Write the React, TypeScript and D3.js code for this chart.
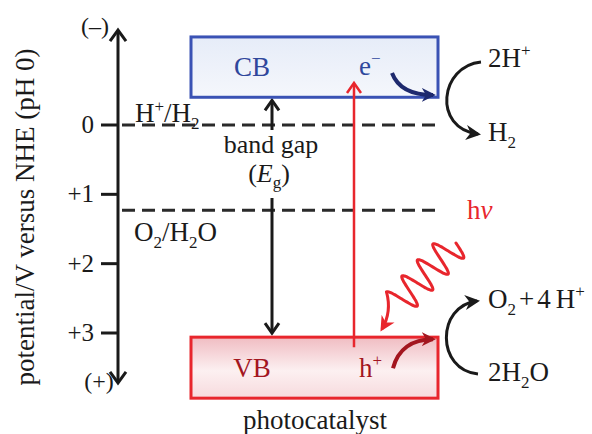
import React from "react";
import * as d3 from "d3";

// ---- data (potentials in V vs NHE, pH 0) ----
const tickValues = [0, 1, 2, 3];
const tickLabels = ["0", "+1", "+2", "+3"];
const axisRange = [-1.37, 3.72]; // axis arrow ends
const redoxValues = [0, 1.23];
const bandNames = ["CB", "VB"];
const bandTops = [-1.27, 3.06];
const bandBottoms = [-0.4, 3.94];

const W = 592;
const H = 434;
const FONT = "'Liberation Serif', 'Times New Roman', serif";

const y = d3.scaleLinear().domain([0, 3]).range([125, 333]);

export default function App() {
  const axisX = 118;
  const boxX0 = 191;
  const boxX1 = 438;
  const gapX = 272;
  const redX = 354;

  const cb = { top: y(bandTops[0]), bottom: y(bandBottoms[0]) };
  const vb = { top: y(bandTops[1]), bottom: y(bandBottoms[1]) };

  // photon wave (decorative glyph)
  const wStart: [number, number] = [456, 243];
  const wEnd: [number, number] = [398, 303];
  const dx = wEnd[0] - wStart[0];
  const dy = wEnd[1] - wStart[1];
  const len = Math.hypot(dx, dy);
  const ux = dx / len, uy = dy / len;
  const px = -uy, py = ux;
  const wavePts: [number, number][] = [];
  const N = 160;
  const periods = 3.75;
  for (let i = 0; i <= N; i++) {
    const t = i / N;
    const a = 16 * Math.sin(2 * Math.PI * periods * t - Math.PI);
    wavePts.push([wStart[0] + dx * t + px * a, wStart[1] + dy * t + py * a]);
  }
  const waveLine = d3.line().curve(d3.curveBasis)(wavePts) || "";
  const wLast = wavePts[wavePts.length - 1];

  const tickFont = 25;
  const lab = 27;
  const sub = 17;

  return (
    <svg width={W} height={H} style={{ position: "absolute", left: 0, top: 0 }} fontFamily={FONT}>
      <defs>
        <linearGradient id="cbFill" x1="0" y1="0" x2="0" y2="1">
          <stop offset="0" stopColor="#e6ecf8" />
          <stop offset="1" stopColor="#f5f7fc" />
        </linearGradient>
        <linearGradient id="vbFill" x1="0" y1="0" x2="0" y2="1">
          <stop offset="0" stopColor="#f0bcc2" />
          <stop offset="0.55" stopColor="#fcf0f1" />
          <stop offset="1" stopColor="#f7dadd" />
        </linearGradient>
        <marker id="headBlack" viewBox="0 0 10 10" refX="8" refY="5" markerWidth="5" markerHeight="5" orient="auto" markerUnits="strokeWidth">
          <path d="M0,0 L10,5 L0,10 L3,5 z" fill="#1a1a1a" />
        </marker>
        <marker id="headNavy" viewBox="0 0 10 10" refX="8" refY="5" markerWidth="3.5" markerHeight="3.5" orient="auto" markerUnits="strokeWidth">
          <path d="M0,0 L10,5 L0,10 L3,5 z" fill="#1e2a6e" />
        </marker>
        <marker id="headDRed" viewBox="0 0 10 10" refX="8" refY="5" markerWidth="3.5" markerHeight="3.5" orient="auto" markerUnits="strokeWidth">
          <path d="M0,0 L10,5 L0,10 L3,5 z" fill="#a3161f" />
        </marker>
        <marker id="headRed" viewBox="0 0 10 10" refX="8" refY="5" markerWidth="5" markerHeight="5" orient="auto" markerUnits="strokeWidth">
          <path d="M0,0 L10,5 L0,10 L3,5 z" fill="#e8262d" />
        </marker>
      </defs>

      {/* y-axis title */}
      <text x={34} y={217} transform="rotate(-90 34 217)" textAnchor="middle" fontSize={27} fill="#1a1a1a">
        potential/V versus NHE (pH 0)
      </text>

      {/* axis line with arrowheads */}
      <line x1={axisX} x2={axisX} y1={y(axisRange[0]) + 1} y2={y(axisRange[1]) - 1} stroke="#1a1a1a" strokeWidth={3} />
      <path d={`M${axisX - 8},${y(axisRange[0]) + 11} L${axisX},${y(axisRange[0])} L${axisX + 8},${y(axisRange[0]) + 11}`} fill="none" stroke="#1a1a1a" strokeWidth={3} />
      <path d={`M${axisX - 8},${y(axisRange[1]) - 11} L${axisX},${y(axisRange[1])} L${axisX + 8},${y(axisRange[1]) - 11}`} fill="none" stroke="#1a1a1a" strokeWidth={3} />
      <text x={95} y={y(axisRange[0]) + 4} textAnchor="middle" fontSize={24} fill="#1a1a1a">(–)</text>
      <text x={99} y={y(axisRange[1]) + 6} textAnchor="middle" fontSize={24} fill="#1a1a1a">(+)</text>

      {/* ticks */}
      {tickValues.map((v, i) => (
        <g key={v}>
          <line x1={101} x2={axisX} y1={y(v)} y2={y(v)} stroke="#1a1a1a" strokeWidth={3} />
          <text x={94} y={y(v) + 8} textAnchor="end" fontSize={tickFont} fill="#1a1a1a">{tickLabels[i]}</text>
        </g>
      ))}

      {/* redox levels */}
      {redoxValues.map((v) => (
        <line key={v} x1={122} x2={441} y1={y(v)} y2={y(v)} stroke="#2a2a2a" strokeWidth={3} strokeDasharray="13 7" />
      ))}
      <text x={135} y={y(redoxValues[0]) - 3} fontSize={lab} fill="#1a1a1a">
        H<tspan dy={-10} fontSize={sub}>+</tspan><tspan dy={10}>/H</tspan><tspan dy={7} fontSize={sub}>2</tspan>
      </text>
      <text x={134} y={y(redoxValues[1]) + 31} fontSize={lab} fill="#1a1a1a">
        O<tspan dy={7} fontSize={sub}>2</tspan><tspan dy={-7}>/H</tspan><tspan dy={7} fontSize={sub}>2</tspan><tspan dy={-7}>O</tspan>
      </text>

      {/* band gap arrow */}
      <line x1={gapX} x2={gapX} y1={cb.bottom + 4} y2={130} stroke="#1a1a1a" strokeWidth={3} />
      <path d={`M${gapX - 7},${cb.bottom + 13} L${gapX},${cb.bottom + 3} L${gapX + 7},${cb.bottom + 13}`} fill="none" stroke="#1a1a1a" strokeWidth={3} />
      <line x1={gapX} x2={gapX} y1={198} y2={vb.top - 4} stroke="#1a1a1a" strokeWidth={3} />
      <path d={`M${gapX - 7},${vb.top - 14} L${gapX},${vb.top - 4} L${gapX + 7},${vb.top - 14}`} fill="none" stroke="#1a1a1a" strokeWidth={3} />
      <text x={gapX - 1} y={153} textAnchor="middle" fontSize={26} fill="#1a1a1a">band gap</text>
      <text x={gapX - 3} y={182} textAnchor="middle" fontSize={26} fill="#1a1a1a">
        (<tspan fontStyle="italic">E</tspan><tspan dy={6} fontSize={sub}>g</tspan><tspan dy={-6}>)</tspan>
      </text>

      {/* CB box */}
      <rect x={boxX0} y={cb.top} width={boxX1 - boxX0} height={cb.bottom - cb.top} fill="url(#cbFill)" stroke="#3a52b4" strokeWidth={3} />
      <text x={252} y={cb.top + 39} textAnchor="middle" fontSize={lab} fill="#2f479c">{bandNames[0]}</text>
      <text x={359} y={cb.top + 38} fontSize={lab} fill="#2f479c">e<tspan dy={-11} fontSize={sub}>−</tspan></text>
      <path d={`M${392},${cb.top + 36} C${398},${cb.top + 52} ${412},${cb.top + 58} ${433},${cb.top + 58}`} fill="none" stroke="#1e2a6e" strokeWidth={4} markerEnd="url(#headNavy)" />

      {/* VB box */}
      <rect x={boxX0} y={vb.top} width={boxX1 - boxX0} height={vb.bottom - vb.top} fill="url(#vbFill)" stroke="#e8262d" strokeWidth={3} />
      <text x={252} y={vb.top + 40} textAnchor="middle" fontSize={lab} fill="#a3161f">{bandNames[1]}</text>
      <text x={359} y={vb.top + 40} fontSize={lab} fill="#a3161f">h<tspan dy={-11} fontSize={sub}>+</tspan></text>
      <path d={`M${393},${vb.top + 31} C${398},${vb.top + 12} ${412},${vb.top + 2} ${433},${vb.top + 2}`} fill="none" stroke="#a3161f" strokeWidth={4} markerEnd="url(#headDRed)" />

      {/* excitation arrow */}
      <line x1={redX} x2={redX} y1={vb.top + 10} y2={cb.top + 47} stroke="#e8262d" strokeWidth={2.5} />
      <path d={`M${redX - 7},${cb.top + 56} L${redX},${cb.top + 46} L${redX + 7},${cb.top + 56}`} fill="none" stroke="#e8262d" strokeWidth={2.5} />
      <text x={467} y={219} fontSize={lab} fill="#e8262d">h<tspan fontStyle="italic">ν</tspan></text>

      {/* photon */}
      <path d={waveLine} fill="none" stroke="#e8262d" strokeWidth={3} strokeLinecap="round" />
      <path d={`M${wLast[0]},${wLast[1]} Q${392},${312} ${382},${329}`} fill="none" stroke="#e8262d" strokeWidth={3} markerEnd="url(#headRed)" />

      {/* reduction */}
      <text x={488} y={67} fontSize={lab} fill="#1a1a1a">2H<tspan dy={-11} fontSize={sub}>+</tspan></text>
      <text x={488} y={141} fontSize={lab} fill="#1a1a1a">H<tspan dy={7} fontSize={sub}>2</tspan></text>
      <path d="M481,62 C440,66 432,128 478,134" fill="none" stroke="#1a1a1a" strokeWidth={3} markerEnd="url(#headBlack)" />

      {/* oxidation */}
      <text x={488} y={308} fontSize={lab} fill="#1a1a1a">
        O<tspan dy={7} fontSize={sub}>2</tspan><tspan dy={-7} dx={3}>+</tspan><tspan dx={3}>4</tspan><tspan dx={5}>H</tspan><tspan dy={-11} fontSize={sub}>+</tspan>
      </text>
      <text x={488} y={381} fontSize={lab} fill="#1a1a1a">
        2H<tspan dy={7} fontSize={sub}>2</tspan><tspan dy={-7}>O</tspan>
      </text>
      <path d="M478,374 C436,370 436,306 477,301" fill="none" stroke="#1a1a1a" strokeWidth={3} markerEnd="url(#headBlack)" />

      <text x={315} y={429} textAnchor="middle" fontSize={lab} fill="#1a1a1a">photocatalyst</text>
    </svg>
  );
}
